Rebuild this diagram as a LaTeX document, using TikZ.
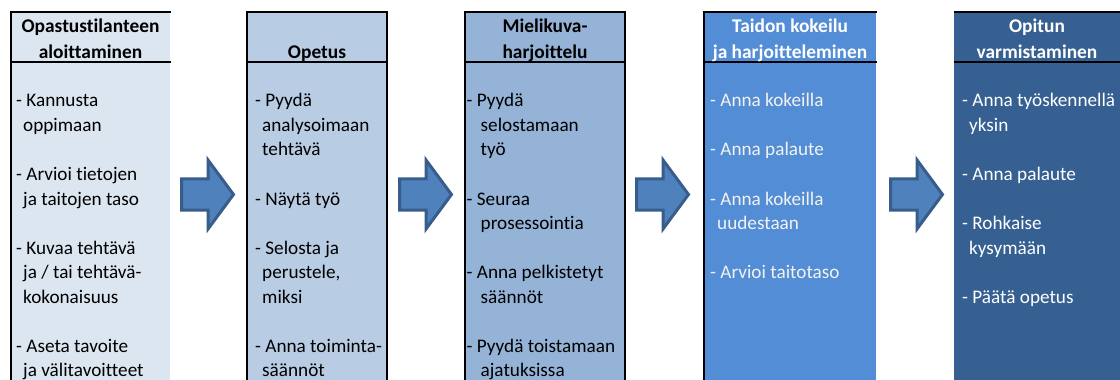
\documentclass[tikz,border=0pt]{standalone}
\usepackage{fontspec}
\setmainfont{Carlito}[Ligatures=NoCommon]
\definecolor{cA}{HTML}{DCE6F1}
\definecolor{cB}{HTML}{B8CCE4}
\definecolor{cC}{HTML}{95B3D7}
\definecolor{cD}{HTML}{538DD5}
\definecolor{cE}{HTML}{366092}
\definecolor{arrfill}{HTML}{4F81BD}
\definecolor{arredge}{HTML}{385D8A}
\definecolor{lighttext}{HTML}{F2F2F2}
\newcommand\cind{\hspace*{7pt}}
\tikzset{
  body/.style={anchor=north west, inner sep=0pt, align=left,
    font=\fontsize{19.2}{24.55}\selectfont},
  head/.style={anchor=north, inner sep=0pt, align=center,
    font=\bfseries\fontsize{19.4}{25.5}\selectfont},
  frame/.style={line width=2pt, black},
  blockarrow/.style={fill=arrfill, draw=arredge, line width=3pt, line join=miter},
  pics/flowarrow/.style={code={
    \draw[blockarrow] (181.5,178.8) -- (208,178.8) -- (208,160) -- (233.5,194.5)
      -- (208,229) -- (208,210.2) -- (181.5,210.2) -- cycle;}}
}
\begin{document}
\begin{tikzpicture}[x=1pt,y=-1pt]
\useasboundingbox (0,0) rectangle (1120,380);
% column fills
\fill[cA] (11,12) rectangle (170,380);
\fill[cB] (247,12) rectangle (387,380);
\fill[cC] (465,12) rectangle (625,380);
\fill[cD] (704,12) rectangle (876,380);
\fill[cE] (954,12) rectangle (1120,380);
% frames
\draw[frame] (11,380) -- (11,12) -- (171,12);
\draw[frame] (10,62) -- (171,62);
\draw[frame] (247,380) -- (247,12) -- (387,12) -- (387,380);
\draw[frame] (247,62) -- (387,62);
\draw[frame] (465,380) -- (465,12) -- (625,12) -- (625,380);
\draw[frame] (465,62) -- (625,62);
\draw[frame] (704,380) -- (704,12) -- (877,12);
\draw[frame] (703,62) -- (877,62);
\draw[frame] (954,12) -- (1120,12);
\draw[frame] (954,62) -- (1120,62);
% arrows
\pic (a1) at (0,0) {flowarrow};
\pic (a2) at (218,0) {flowarrow};
\pic (a3) at (455,0) {flowarrow};
\pic (a4) at (709,0) {flowarrow};
% headers
\node[head] (h1) at (90.5,14.65) {\strut Opastustilanteen\\\strut aloittaminen};
\node[head] (h2) at (317,40.15) {\strut Opetus};
\node[head] (h3) at (545,14.65) {\strut Mielikuva-\\\strut harjoittelu};
\node[head, text=white] (h4) at (790,14.65) {\strut Taidon kokeilu\\\strut ja harjoitteleminen};
\node[head, text=white] (h5) at (1037,14.65) {\strut Opitun\\\strut varmistaminen};
% bodies
\node[body] (b1) at (16,89.5) {\strut - Kannusta\\\strut\cind oppimaan\\\strut\\
\strut - Arvioi tietojen\\\strut\cind ja taitojen taso\\\strut\\
\strut - Kuvaa tehtävä\\\strut\cind ja / tai tehtävä-\\\strut\cind kokonaisuus\\\strut\\
\strut - Aseta tavoite\\\strut\cind ja välitavoitteet};
\node[body] (b2) at (255,89.5) {\strut - Pyydä\\\strut\cind analysoimaan\\\strut\cind tehtävä\\\strut\\
\strut - Näytä työ\\\strut\\
\strut - Selosta ja\\\strut\cind perustele,\\\strut\cind miksi\\\strut\\
\strut - Anna toiminta-\\\strut\cind säännöt};
\node[body] (b3) at (466.5,89.5) {\strut - Pyydä\\\strut\hspace*{14pt}selostamaan\\\strut\hspace*{14pt}työ\\\strut\\
\strut - Seuraa\\\strut\hspace*{14pt}prosessointia\\\strut\\
\strut - Anna pelkistetyt\\\strut\hspace*{14pt}säännöt\\\strut\\
\strut - Pyydä toistamaan\\\strut\hspace*{14pt}ajatuksissa};
\node[body, text=lighttext] (b4) at (710,89.5) {\strut - Anna kokeilla\\\strut\\
\strut - Anna palaute\\\strut\\
\strut - Anna kokeilla\\\strut\cind uudestaan\\\strut\\
\strut - Arvioi taitotaso};
\node[body, text=white] (b5) at (962,89.5) {\strut - Anna työskennellä\\\strut\cind yksin\\\strut\\
\strut - Anna palaute\\\strut\\
\strut - Rohkaise\\\strut\cind kysymään\\\strut\\
\strut - Päätä opetus};
\end{tikzpicture}
\end{document}
